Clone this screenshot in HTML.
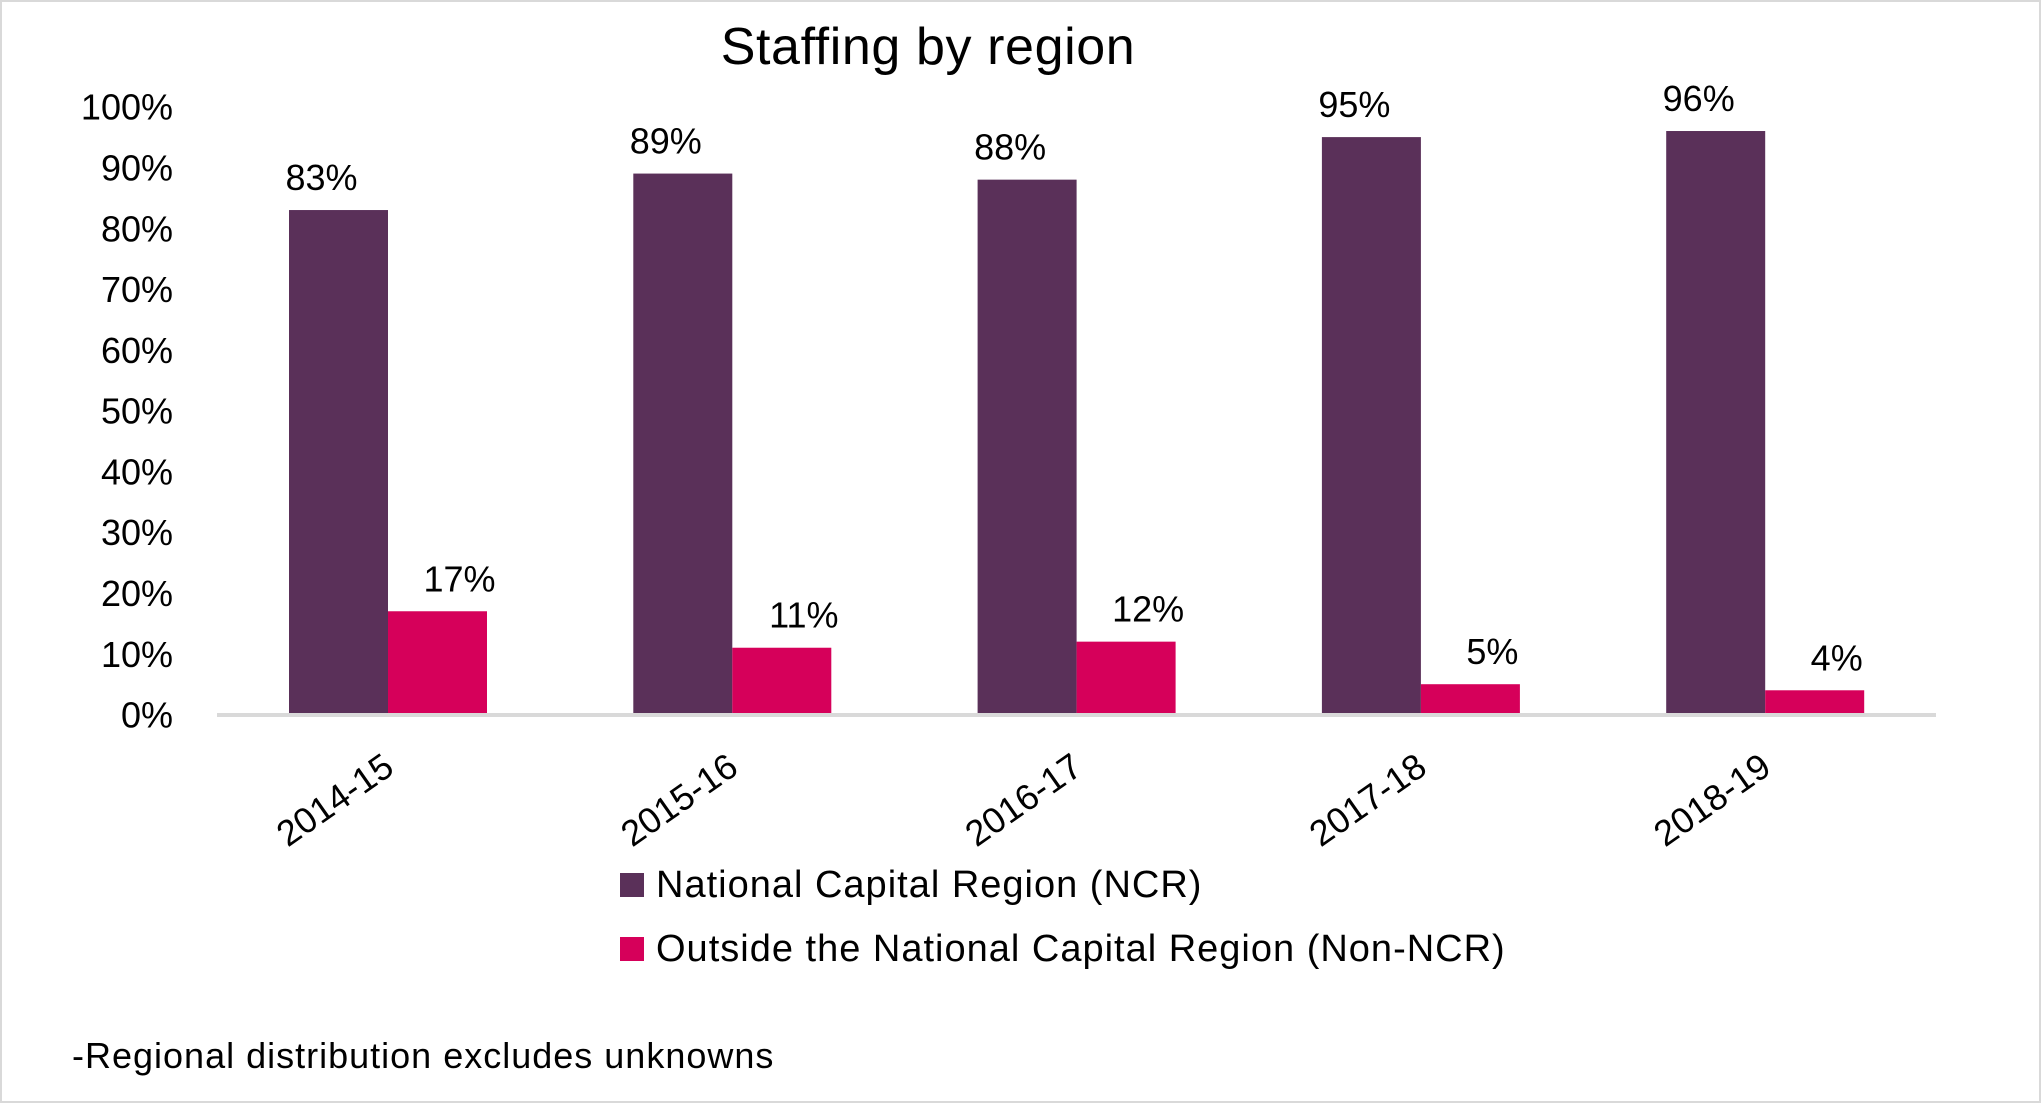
<!DOCTYPE html>
<html><head><meta charset="utf-8">
<style>
html,body{margin:0;padding:0;background:#fff;}
svg{display:block;font-family:"Liberation Sans",sans-serif;}
</style></head>
<body>
<svg id="chart" width="2041" height="1103" viewBox="0 0 2041 1103">
<rect x="1" y="1" width="2039" height="1101" fill="#fff" stroke="#d9d9d9" stroke-width="2"/>
<text x="928" y="64" font-size="52" text-anchor="middle" fill="#000" letter-spacing="0.6">Staffing by region</text>
<g id="yaxis"></g>
<g id="bars"></g>
<line x1="217" y1="715" x2="1936" y2="715" stroke="#d9d9d9" stroke-width="4"/>
<g id="xaxis"></g>
<g>
<g>
<rect x="620" y="873" width="24" height="24" fill="#5A3059"/>
<text x="656" y="897" font-size="38" fill="#000" letter-spacing="1">National Capital Region (NCR)</text>
</g>
<g>
<rect x="620" y="937" width="24" height="24" fill="#D6005A"/>
<text x="656" y="961" font-size="38" fill="#000" letter-spacing="1">Outside the National Capital Region (Non-NCR)</text>
</g>
</g>
<text x="72" y="1068" font-size="36" fill="#000" letter-spacing="1">-Regional distribution excludes unknowns</text>
</svg>
<script>
const categories = ["2014-15","2015-16","2016-17","2017-18","2018-19"];
const ncrValues = [83,89,88,95,96];
const nonNcrValues = [17,11,12,5,4];
const yTicks = [0,10,20,30,40,50,60,70,80,90,100];

const NS = "http://www.w3.org/2000/svg";
const y0 = 714.6, y100 = 106.7;
const yScale = v => y0 - (v/100)*(y0-y100);
const x0 = 289, step = 344.3, bw = 99;
const xScale = i => x0 + i*step;

function mk(tag, attrs, parent, txt){
  const e = document.createElementNS(NS, tag);
  for (const k in attrs) e.setAttribute(k, attrs[k]);
  if (txt !== undefined) e.textContent = txt;
  parent.appendChild(e);
  return e;
}
const yaxis = document.getElementById('yaxis');
yTicks.forEach(t => {
  const el = mk('text', {x:173, y:yScale(t)+13, 'font-size':36, 'text-anchor':'end', fill:'#000'}, yaxis, t+'%');
  
  
});
const bars = document.getElementById('bars');
const xaxis = document.getElementById('xaxis');
const labelShift = [-17, 22];
categories.forEach((c, i) => {
  const x = xScale(i);
  const series = [[ncrValues[i], '#5A3059', 'ncr'], [nonNcrValues[i], '#D6005A', 'non-ncr']];
  series.forEach((s, j) => {
    const bx = x + j*bw;
    const r = mk('rect', {x:bx, y:yScale(s[0]), width:bw, height:y0-yScale(s[0]), fill:s[1]}, bars);
    
    
    const l = mk('text', {x:bx+bw/2+labelShift[j], y:yScale(s[0])-20, 'font-size':36, 'text-anchor':'middle', fill:'#000'}, bars, s[0]+'%');
    
    
  });
  const cx = x + bw + 8, cy = 772;
  const t = mk('text', {x:cx, y:cy, 'font-size':36, 'text-anchor':'end', fill:'#000', transform:'rotate(-35 '+cx+' '+cy+')'}, xaxis, c);
  
  
});
</script>
</body></html>
